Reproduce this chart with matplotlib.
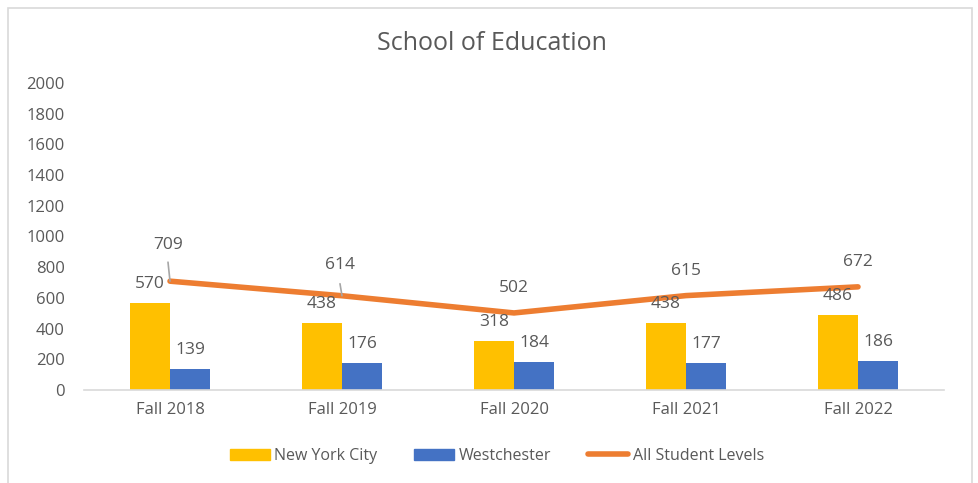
import matplotlib.pyplot as plt
import numpy as np
from matplotlib.patches import Rectangle
from matplotlib.lines import Line2D

years = ["Fall 2018", "Fall 2019", "Fall 2020", "Fall 2021", "Fall 2022"]
nyc = [570, 438, 318, 438, 486]
westchester = [139, 176, 184, 177, 186]
all_levels = [709, 614, 502, 615, 672]

YELLOW = "#FFC000"
BLUE = "#4472C4"
ORANGE = "#ED7D31"
TEXT = "#595959"

plt.rcParams["font.family"] = ["Open Sans", "DejaVu Sans"]

fig = plt.figure(figsize=(9.79, 4.83), dpi=100)
ax = fig.add_axes([84 / 979, 1 - 390 / 483, 860 / 979, 307 / 483])

# chart frame
fig.patches.append(Rectangle((8 / 979, -0.01), 964 / 979, 1 - 8 / 483 + 0.01,
                             transform=fig.transFigure, fill=False,
                             edgecolor="#d9d9d9", linewidth=1.2))

x = np.arange(len(years))
w = 0.235
ax.bar(x - w / 2, nyc, w, color=YELLOW, label="New York City", zorder=2)
ax.bar(x + w / 2, westchester, w, color=BLUE, label="Westchester", zorder=2)
ax.plot(x, all_levels, color=ORANGE, linewidth=4, label="All Student Levels",
        solid_capstyle="round", zorder=3)

for xi, v in zip(x, nyc):
    ax.annotate(str(v), (xi - w / 2, v), xytext=(0, 19), textcoords="offset pixels",
                ha="center", va="center", fontsize=12.5, color=TEXT)
for xi, v in zip(x, westchester):
    ax.annotate(str(v), (xi + w / 2, v), xytext=(0, 19), textcoords="offset pixels",
                ha="center", va="center", fontsize=12.5, color=TEXT)

line_offsets = [(-2, 36), (-2, 31), (0, 25), (0, 25), (0, 25)]
for i, (xi, v) in enumerate(zip(x, all_levels)):
    dx, dy = line_offsets[i]
    ax.annotate(str(v), (xi, v), xytext=(dx, dy), textcoords="offset pixels",
                ha="center", va="center", fontsize=12.5, color=TEXT, zorder=4)
# leader lines
ax.annotate("", (0, all_levels[0]), xytext=(-2, 19), textcoords="offset pixels",
            arrowprops=dict(arrowstyle="-", color="#a6a6a6", lw=1.2, shrinkA=0, shrinkB=0))
ax.annotate("", (1, all_levels[1]), xytext=(-2, 12), textcoords="offset pixels",
            arrowprops=dict(arrowstyle="-", color="#a6a6a6", lw=1.2, shrinkA=0, shrinkB=0))

ax.set_xlim(-0.5, 4.5)
ax.set_ylim(0, 2000)
ax.set_yticks(range(0, 2001, 200))
ax.set_xticks(x)
ax.set_xticklabels(years)
ax.tick_params(axis="both", length=0, labelsize=12, colors=TEXT)
ax.tick_params(axis="y", pad=14)
ax.tick_params(axis="x", pad=9)
for s in ["top", "right", "left"]:
    ax.spines[s].set_visible(False)
ax.spines["bottom"].set_color("#d9d9d9")
ax.spines["bottom"].set_linewidth(1.2)

fig.text(492 / 979, 1 - 44 / 483, "School of Education", ha="center", va="center",
         fontsize=18, color=TEXT)

handles = [Rectangle((0, 0), 1, 1, color=YELLOW), Rectangle((0, 0), 1, 1, color=BLUE),
           Line2D([0], [0], color=ORANGE, linewidth=4, solid_capstyle="round")]
fig.legend(handles, ["New York City", "Westchester", "All Student Levels"],
           loc="center", bbox_to_anchor=(497 / 979, 1 - 456 / 483), ncol=3,
           frameon=False, fontsize=11.5, labelcolor=TEXT, handlelength=2.5,
           handleheight=0.7, handletextpad=0.3, columnspacing=2.3)

fig.savefig("out.png", dpi=100)
